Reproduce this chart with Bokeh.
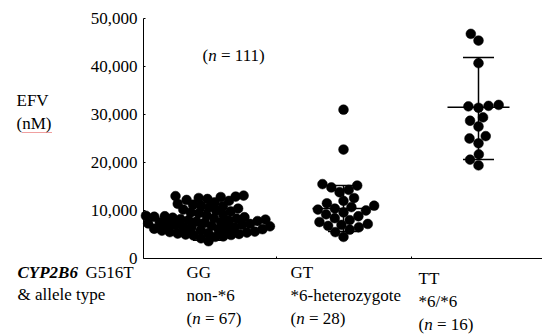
import math
import numpy as np
from bokeh.plotting import figure
from bokeh.models import Label, Range1d, NumeralTickFormatter, FixedTicker, LinearAxis
from bokeh.embed import file_html
from bokeh.resources import INLINE

# ---------------- data ----------------
groups = ["GG", "GT", "TT"]
group_lines = ["non-*6", "*6-heterozygote", "*6/*6"]
group_n = ["67", "28", "16"]

gg_values = [3600, 4200, 4500, 4600, 4800, 4900, 5000, 5100, 5200, 5300, 5400, 5500, 5600,
             5800, 5900, 6000, 6100, 6200, 6300, 6400, 6500, 6600, 6700,
             6800, 6900, 7000, 7100, 7200, 7300, 7400, 7500, 7600, 7700,
             7800, 7900, 8000, 8100, 8200, 8300, 8400, 8500, 8600, 8700,
             8800, 8900, 9000, 9200, 9400, 9600, 9800, 10000, 10200, 10400,
             10600, 10900, 11200, 11400, 11700, 12000, 12200, 12400, 12600, 12800,
             13000, 13100, 12900, 11000]
gt_values = [31000, 22700, 15500, 15200, 14800, 14300, 13800, 12600, 12000, 11500,
             11000, 10700, 10400, 10200, 10000, 9600, 9200, 8800, 8400, 8000,
             7600, 7200, 7000, 6800, 6500, 6000, 5500, 4500]
tt_values = [46800, 45400, 40700, 32000, 31800, 31700, 31400, 29400, 28700, 27500,
             25500, 25000, 24000, 21700, 20600, 19400]

centers = [6900, 10400, 31500]
uppers = [10000, 15200, 41900]
lowers = [3800, 5600, 20600]

y_ticks = [0, 10000, 20000, 30000, 40000, 50000]
y_max = 50000

# ---------------- layout (pixel geometry of the picture) ----------------
W, H = 542, 336
AX_LEFT, AX_TOP, AX_BOTTOM = 143, 18, 258   # axis frame in page pixels
PX_PER_X = 135.0          # pixels per category unit
X0_IMG = 208.0            # page x of category 1
PX_PER_Y = (AX_BOTTOM - AX_TOP) / y_max


def ximg(X):
    return 1 + (X - X0_IMG) / PX_PER_X


def yimg(Y):
    return (AX_BOTTOM - Y) / PX_PER_Y


FONT = "Liberation Serif"
FS = "17px"

p = figure(width=W, height=H, output_backend="svg", toolbar_location=None,
           x_range=Range1d(ximg(0), ximg(W)), y_range=Range1d(yimg(H), yimg(0)),
           x_axis_location=None, y_axis_location=None)
p.min_border = 0
p.min_border_left = 0
p.min_border_right = 0
p.min_border_top = 0
p.min_border_bottom = 0
p.outline_line_color = None
p.xgrid.visible = False
p.ygrid.visible = False
p.background_fill_color = "white"
p.border_fill_color = "white"

yaxis = LinearAxis(ticker=FixedTicker(ticks=y_ticks),
                   formatter=NumeralTickFormatter(format="0,0"),
                   fixed_location=ximg(AX_LEFT), bounds=(0, y_max))
yaxis.axis_line_color = "black"
yaxis.axis_line_width = 1
yaxis.major_tick_in = 2
yaxis.major_tick_out = 0
yaxis.minor_tick_line_color = None
yaxis.major_label_standoff = 6
yaxis.major_label_text_font = FONT
yaxis.major_label_text_font_size = FS
yaxis.major_label_text_color = "black"
p.add_layout(yaxis, "left")

xaxis = LinearAxis(ticker=FixedTicker(ticks=[1.5, 2.5]), fixed_location=0,
                   bounds=(ximg(AX_LEFT), ximg(W)))
xaxis.axis_line_color = "black"
xaxis.axis_line_width = 1.2
xaxis.major_tick_in = 2
xaxis.major_tick_out = 0
xaxis.minor_tick_line_color = None
xaxis.major_label_overrides = {1.5: "", 2.5: ""}
xaxis.major_label_standoff = 0
p.add_layout(xaxis, "below")


def swarm(vals, d):
    vals = np.asarray(vals, dtype=float)
    order = np.argsort(vals)
    placed = []
    xs = np.zeros(len(vals))
    for i in order:
        y = vals[i] * PX_PER_Y
        cands = [0.0]
        for (px, py) in placed:
            dy = abs(py - y)
            if dy < d:
                dx = math.sqrt(d * d - dy * dy)
                cands += [px - dx, px + dx]
        cands.sort(key=lambda c: (round(abs(c), 6), c))
        chosen = 0.0
        for c in cands:
            if all((c - px) ** 2 + (y - py) ** 2 >= d * d - 1e-6 for px, py in placed):
                chosen = c
                break
        placed.append((chosen, y))
        xs[i] = chosen
    return xs


all_vals = [gg_values, gt_values, tt_values]
spacing = [8.0, 9.5, 10.2]

# summary lines (mean / SD style)
half_c = 31 / PX_PER_X
half_w = 15.5 / PX_PER_X
for gi in range(3):
    cx = gi + 1
    p.segment(x0=[cx - half_c], x1=[cx + half_c], y0=[centers[gi]], y1=[centers[gi]],
              line_color="black", line_width=1.5)
    p.segment(x0=[cx - half_w, cx - half_w], x1=[cx + half_w, cx + half_w],
              y0=[uppers[gi], lowers[gi]], y1=[uppers[gi], lowers[gi]],
              line_color="black", line_width=1.5)
    p.segment(x0=[cx], x1=[cx], y0=[lowers[gi]], y1=[uppers[gi]],
              line_color="black", line_width=1.5)

for gi, vals in enumerate(all_vals):
    offs = swarm(vals, spacing[gi])
    xs = (gi + 1) + offs / PX_PER_X
    p.scatter(xs, vals, size=9.8, fill_color="black", line_color="black", line_width=0.5)


def lab(X, Y, text, style="normal", align="left"):
    p.add_layout(Label(x=ximg(X), y=yimg(Y), text=text, text_font=FONT, text_font_size=FS,
                       text_font_style=style, text_align=align, text_baseline="middle",
                       text_color="black"))


# y-axis title (with the spell-check underline seen under "nM")
lab(16, 100, "EFV")
lab(16, 123, "(nM)")
p.segment(x0=[ximg(22)], x1=[ximg(51)], y0=[yimg(132)], y1=[yimg(132)],
          line_color="#e04040", line_width=1, line_dash="1 1")

# total n
lab(202, 55, "(")
lab(207.7, 55, "n", style="italic")
lab(220.5, 55, "= 111)")

# bottom labels
lab(17, 272, "CYP2B6", style="bold italic")
lab(85, 272, "G516T")
lab(17, 294, "& allele type")

col_x = [186, 290, 418]
col_y = [[272, 295, 318], [272, 295, 318], [278, 301, 324]]
for gi in range(3):
    X = col_x[gi]
    ys = col_y[gi]
    lab(X, ys[0], groups[gi])
    lab(X, ys[1], group_lines[gi])
    lab(X, ys[2], "(")
    lab(X + 5.7, ys[2], "n", style="italic")
    lab(X + 18.5, ys[2], "= " + group_n[gi] + ")")

open("out.html", "w").write(file_html(p, INLINE))
